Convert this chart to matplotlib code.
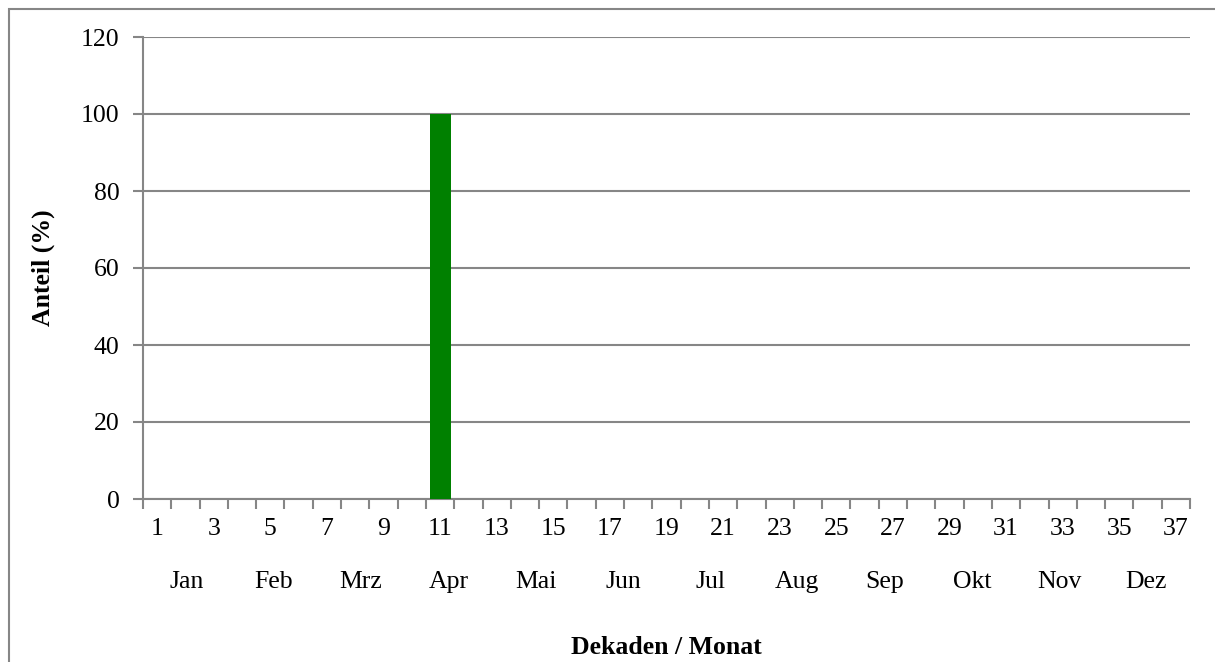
import matplotlib
matplotlib.use("Agg")
import matplotlib.pyplot as plt
from matplotlib.patches import Rectangle
from matplotlib.ticker import FixedLocator, MultipleLocator

# ---- data ----
decades = list(range(1, 38))
values = [0, 0, 0, 0, 0, 0, 0, 0, 0, 0, 100, 0, 0, 0, 0, 0, 0, 0,
          0, 0, 0, 0, 0, 0, 0, 0, 0, 0, 0, 0, 0, 0, 0, 0, 0, 0, 0]
months = ["Jan", "Feb", "Mrz", "Apr", "Mai", "Jun", "Jul", "Aug",
          "Sep", "Okt", "Nov", "Dez"]
y_label = "Anteil (%)"
x_label = "Dekaden / Monat"

plt.rcParams['font.family'] = ['Liberation Serif', 'DejaVu Serif']
FS = 18.5
GRAY = "#868686"

W, H = 1215, 662
fig = plt.figure(figsize=(W / 100, H / 100), dpi=100)
ax = fig.add_axes([143 / W, 1 - 499 / H, (1190 - 143) / W, (499 - 37) / H])

x = list(range(len(decades)))
ax.bar(x, values, width=0.74, color="#008000", zorder=3)

ax.set_xlim(-0.5, len(decades) - 0.5)
ax.set_ylim(0, 120)

# y axis
ax.yaxis.set_major_locator(MultipleLocator(20))
ax.grid(axis="y", color=GRAY, linewidth=1.5, zorder=0)
ax.tick_params(axis="y", which="major", length=7, width=1.5, color=GRAY,
               labelsize=FS, pad=10)

# x axis: labels on odd decades, ticks at boundaries
ax.xaxis.set_major_locator(FixedLocator(x[::2]))
ax.set_xticklabels([str(d) for d in decades[::2]])
ax.xaxis.set_minor_locator(FixedLocator([i - 0.5 for i in range(len(decades) + 1)]))
ax.tick_params(axis="x", which="major", length=0, labelsize=FS, pad=14)
ax.tick_params(axis="x", which="minor", length=7, width=1.5, color=GRAY)

for s in ["top", "right"]:
    ax.spines[s].set_visible(False)
for s in ["left", "bottom"]:
    ax.spines[s].set_color(GRAY)
    ax.spines[s].set_linewidth(1.5)

# month labels
span = len(decades) / len(months)
for i, m in enumerate(months):
    xc = -0.5 + (i + 0.5) * span
    ax.annotate(m, xy=(xc, 0), xycoords=("data", "axes fraction"),
                xytext=(0, -83 * 0.72), textcoords="offset points",
                ha="center", va="center", fontsize=FS)

ax.set_ylabel(y_label, fontsize=FS, fontweight="bold")
ax.yaxis.set_label_coords((55 - 143) / (1190 - 143), 0.5)
fig.text(666 / W, 1 - 648 / H, x_label, fontsize=FS, fontweight="bold",
         ha="center", va="center")

# outer chart border (partially visible)
fig.patches.append(Rectangle((8.5 / W, -0.2), 1.5, 1.2 - 8.5 / H,
                             transform=fig.transFigure, fill=False,
                             edgecolor=GRAY, linewidth=1.5))

fig.savefig("out.png", dpi=100)
